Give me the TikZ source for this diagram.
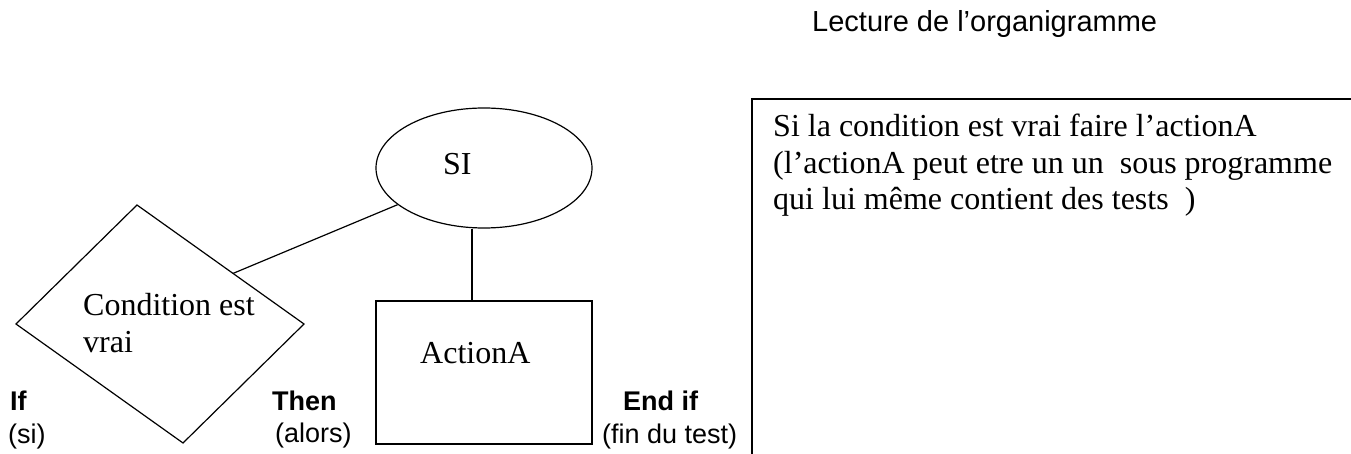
\documentclass[tikz,border=0pt]{standalone}
\usepackage{fontspec}
\setmainfont{Liberation Serif}
\newfontfamily\arialfont{Liberation Sans}
\usetikzlibrary{shapes.geometric,calc}
\tikzset{
  ln/.style={line width=1.2pt, black},
  serif/.style={font=\fontsize{32}{36.5}\selectfont, inner sep=0pt},
  sanslbl/.style={font=\arialfont\fontsize{27}{30}\selectfont, inner sep=0pt, anchor=base west},
  sansbold/.style={font=\arialfont\bfseries\fontsize{27}{30}\selectfont, inner sep=0pt, anchor=base west},
}
\begin{document}
\begin{tikzpicture}[x=1pt,y=-1pt]
\useasboundingbox (0,0) rectangle (1351,454);
% title
\node[font=\arialfont\fontsize{29}{32}\selectfont, inner sep=0pt, anchor=base west] (title) at (812,32) {Lecture de l’organigramme};
% ellipse SI
\node[ln, draw, ellipse, minimum width=216pt, minimum height=120pt, inner sep=0pt] (si) at (484,168) {};
\node[serif, anchor=base west] (sitxt) at (443,175) {SI};
% diamond (condition)
\coordinate (dT) at (137,205);
\coordinate (dR) at (304,324);
\coordinate (dB) at (183,443);
\coordinate (dL) at (16,324);
\draw[ln, line join=miter] (dT) -- (dR) -- (dB) -- (dL) -- cycle;
\node[serif, anchor=base west, align=left] (cond) at (83,352) {Condition est\\vrai};
\coordinate (dA) at ($(dT)!0.575!(dR)$);
% action box
\node[ln, draw, rectangle, minimum width=216pt, minimum height=143pt, inner sep=0pt] (act) at (484,372.5) {};
\node[serif, anchor=base west] (acttxt) at (420,363) {ActionA};
% connectors
\draw[ln] (dA) -- (si.203.5);
\path (act.north) ++(-12,0) coordinate (an);
\draw[ln] (an |- si.south) -- (an);
% labels
\node[sansbold] (if) at (10,410) {If};
\node[sanslbl] (ifs) at (8,443) {(si)};
\node[sansbold] (then) at (272,410) {Then};
\node[sanslbl] (thens) at (275,442) {(alors)};
\node[sansbold] (endif) at (623,410) {End if};
\node[sanslbl] (endifs) at (602,443) {(fin du test)};
% right frame
\coordinate (fB) at (752,454);
\coordinate (fC) at (752,99);
\coordinate (fR) at (1351,99);
\draw[ln] (fB) -- (fC) -- (fR);
\node[serif, anchor=base west, align=left] (desc) at (773,210) {Si la condition est vrai faire l’actionA\\(l’actionA peut etre un un\ \ sous programme\\qui lui même contient des tests\ \ )};
\end{tikzpicture}
\end{document}
